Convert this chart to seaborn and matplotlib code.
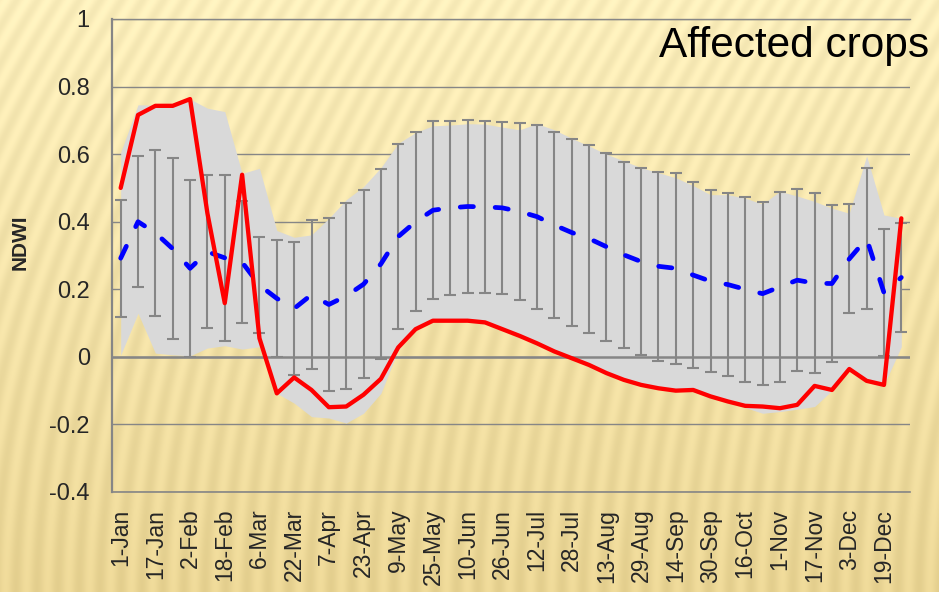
import numpy as np
import pandas as pd
import seaborn as sns
import matplotlib.pyplot as plt

# 8-day composite dates (46 per year)
dates = ["1-Jan", "9-Jan", "17-Jan", "25-Jan", "2-Feb", "10-Feb", "18-Feb", "26-Feb",
         "6-Mar", "14-Mar", "22-Mar", "30-Mar", "7-Apr", "15-Apr", "23-Apr", "1-May",
         "9-May", "17-May", "25-May", "2-Jun", "10-Jun", "18-Jun", "26-Jun", "4-Jul",
         "12-Jul", "20-Jul", "28-Jul", "5-Aug", "13-Aug", "21-Aug", "29-Aug", "6-Sep",
         "14-Sep", "22-Sep", "30-Sep", "8-Oct", "16-Oct", "24-Oct", "1-Nov", "9-Nov",
         "17-Nov", "25-Nov", "3-Dec", "11-Dec", "19-Dec", "27-Dec"]

# affected crop NDWI (red)
affected = [0.50, 0.716, 0.743, 0.743, 0.763, 0.425, 0.159, 0.539, 0.055, -0.108,
            -0.061, -0.098, -0.149, -0.147, -0.112, -0.065, 0.028, 0.082, 0.107, 0.107,
            0.107, 0.102, 0.082, 0.062, 0.04, 0.016, -0.004, -0.024, -0.048, -0.068,
            -0.083, -0.093, -0.10, -0.098, -0.117, -0.132, -0.145, -0.147, -0.152, -0.142,
            -0.086, -0.098, -0.036, -0.071, -0.083, 0.41]

# mean of reference fields (blue dashed) and std dev (error bars)
mean = [0.292, 0.40, 0.367, 0.32, 0.262, 0.311, 0.293, 0.28, 0.212, 0.173,
        0.143, 0.184, 0.155, 0.18, 0.215, 0.275, 0.356, 0.40, 0.434, 0.441,
        0.445, 0.444, 0.441, 0.43, 0.415, 0.39, 0.368, 0.35, 0.326, 0.302,
        0.282, 0.268, 0.262, 0.242, 0.224, 0.214, 0.20, 0.187, 0.207, 0.227,
        0.218, 0.217, 0.29, 0.35, 0.19, 0.235]
sd = [0.173, 0.194, 0.246, 0.268, 0.262, 0.226, 0.245, 0.18, 0.142, 0.173,
      0.196, 0.22, 0.255, 0.274, 0.278, 0.281, 0.273, 0.265, 0.263, 0.258,
      0.256, 0.254, 0.255, 0.263, 0.272, 0.275, 0.276, 0.278, 0.278, 0.276,
      0.276, 0.279, 0.283, 0.276, 0.269, 0.27, 0.273, 0.27, 0.282, 0.27,
      0.267, 0.231, 0.161, 0.208, 0.188, 0.16]

# min / max envelope (gray band)
env_max = [0.605, 0.746, 0.745, 0.745, 0.763, 0.736, 0.726, 0.543, 0.558, 0.374,
           0.354, 0.361, 0.41, 0.465, 0.504, 0.56, 0.632, 0.664, 0.684, 0.686,
           0.69, 0.689, 0.68, 0.672, 0.69, 0.672, 0.647, 0.624, 0.60, 0.58,
           0.56, 0.545, 0.53, 0.507, 0.48, 0.48, 0.47, 0.452, 0.49, 0.476,
           0.46, 0.44, 0.425, 0.595, 0.42, 0.41]
env_min = [0.005, 0.129, 0.011, 0.006, 0.003, 0.026, 0.033, 0.023, 0.03, -0.108,
           -0.137, -0.177, -0.181, -0.196, -0.167, -0.108, 0.02, 0.082, 0.107, 0.107,
           0.107, 0.102, 0.082, 0.062, 0.04, 0.016, -0.004, -0.024, -0.048, -0.068,
           -0.083, -0.093, -0.10, -0.098, -0.117, -0.132, -0.15, -0.167, -0.162, -0.155,
           -0.147, -0.10, -0.04, -0.071, -0.083, 0.03]

df = pd.DataFrame({"idx": range(len(dates)), "date": dates, "affected": affected,
                   "mean": mean, "sd": sd, "lo": env_min, "hi": env_max})

sns.set_style("white")
plt.rcParams["font.family"] = ["Liberation Sans", "DejaVu Sans"]

fig = plt.figure(figsize=(9.39, 5.92), dpi=100)

# striped beige background
H, W = 592, 939
yy, xx = np.mgrid[0:H, 0:W].astype(float)
shift = 0.62 * yy - 0.30 * yy ** 2 / H
stripes = np.sin(2 * np.pi * (xx + shift) / 21.0)
t = yy / H
top_col = np.array([252, 239, 188]) / 255.0
bot_col = np.array([234, 213, 148]) / 255.0
base = top_col[None, None, :] * (1 - t[..., None]) + bot_col[None, None, :] * t[..., None]
tex = np.clip(base + 0.026 * stripes[..., None], 0, 1)
bg = fig.add_axes([0, 0, 1, 1], zorder=-5)
bg.imshow(tex, aspect="auto", interpolation="bilinear")
bg.axis("off")

ax = fig.add_axes([112 / W, 1 - 492 / H, (910 - 112) / W, (492 - 19) / H])
ax.patch.set_alpha(0)
ax.set_axisbelow(True)

grid_col = "#868686"
ax.yaxis.grid(True, color=grid_col, lw=1.0)
ax.xaxis.grid(False)

ax.fill_between(df["idx"], df["lo"], df["hi"], color="#d9d9d9", lw=0, zorder=1)
ax.errorbar(df["idx"], df["mean"], yerr=df["sd"], fmt="none", ecolor=grid_col,
            elinewidth=1.5, capsize=4, capthick=1.5, zorder=2)
ax.axhline(0, color=grid_col, lw=1.8, zorder=2.5)

sns.lineplot(data=df, x="idx", y="mean", ax=ax, color="#0000ff", lw=3.4,
             dashes=False, zorder=3, legend=False)
ax.lines[-1].set_dashes((2.8, 4.6))
ax.lines[-1].set_dash_capstyle("round")
sns.lineplot(data=df, x="idx", y="affected", ax=ax, color="#ff0000", lw=3.1,
             zorder=4, legend=False)
ax.lines[-1].set_solid_joinstyle("round")

ax.set_xlim(-0.5, len(dates) - 0.5)
ax.set_ylim(-0.4, 1.0)
ax.set_yticks([-0.4, -0.2, 0, 0.2, 0.4, 0.6, 0.8, 1.0])
ax.set_yticklabels(["-0.4", "-0.2", "0", "0.2", "0.4", "0.6", "0.8", "1"])
ax.set_xticks(df["idx"][::2])
ax.set_xticklabels(df["date"][::2], rotation=90)
ax.tick_params(axis="x", length=0, pad=12, labelsize=16.5)
ax.tick_params(axis="y", length=0, pad=16, labelsize=17)
ax.set_xlabel("")
ax.set_ylabel("")

ax.spines["right"].set_visible(False)
ax.spines["left"].set_color(grid_col)
ax.spines["left"].set_linewidth(1.6)
ax.spines["bottom"].set_color(grid_col)
ax.spines["bottom"].set_linewidth(1.2)
ax.spines["top"].set_color(grid_col)
ax.spines["top"].set_linewidth(1.0)

fig.text(20 / W, 1 - 242 / H, "NDWI", rotation=90, ha="center", va="center",
         fontsize=15, fontweight="bold")
fig.text(929 / W, 1 - 57 / H, "Affected crops", ha="right", va="baseline",
         fontsize=30.5, color="black")

fig.savefig("out.png", dpi=100)
